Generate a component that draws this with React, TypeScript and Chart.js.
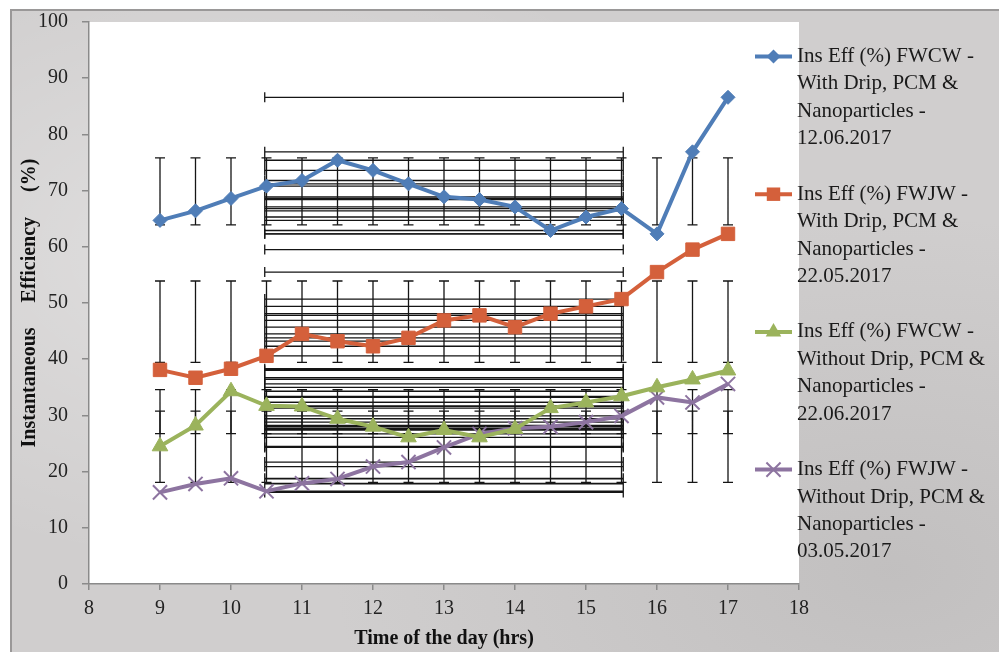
import React, { useEffect, useRef } from "react";
import { Chart, registerables } from "chart.js";

Chart.register(...registerables);

// ---- data ----
const hours = [9, 9.5, 10, 10.5, 11, 11.5, 12, 12.5, 13, 13.5, 14, 14.5, 15, 15.5, 16, 16.5, 17];
const fwcwDrip = [64.7, 66.4, 68.6, 70.8, 71.8, 75.4, 73.6, 71.2, 68.9, 68.4, 67.1, 62.9, 65.3, 66.8, 62.3, 76.9, 86.6];
const fwjwDrip = [38.1, 36.7, 38.3, 40.6, 44.5, 43.2, 42.3, 43.8, 46.9, 47.8, 45.7, 48.1, 49.4, 50.7, 55.5, 59.5, 62.3];
const fwcwNoDrip = [24.5, 28.2, 34.3, 31.7, 31.6, 29.4, 28.0, 26.1, 27.4, 26.1, 27.6, 31.3, 32.3, 33.4, 35.0, 36.4, 38.0];
const fwjwNoDrip = [16.3, 17.8, 18.8, 16.5, 17.9, 18.7, 20.9, 21.7, 24.3, 26.7, 27.7, 28.0, 28.8, 29.9, 33.2, 32.3, 35.6];

const legendLines = [
  ["Ins Eff (%) FWCW -", "With Drip, PCM &", "Nanoparticles -", "12.06.2017"],
  ["Ins Eff (%) FWJW -", "With Drip, PCM &", "Nanoparticles -", "22.05.2017"],
  ["Ins Eff (%) FWCW -", "Without Drip, PCM &", "Nanoparticles -", "22.06.2017"],
  ["Ins Eff (%) FWJW -", "Without Drip, PCM &", "Nanoparticles -", "03.05.2017"],
];
const seriesColors = ["#4f7db7", "#d4603b", "#9bb35c", "#8d74a0"];
const seriesMarkers = ["rectRot", "rect", "triangle", "crossRot"];
const markerRadius = [7, 9.5, 9, 10];
const seriesValues = [fwcwDrip, fwjwDrip, fwcwNoDrip, fwjwNoDrip];

const xMin = 8;
const xMax = 18;
const yMin = 0;
const yMax = 100;
const xTitle = "Time of the day (hrs)";
const yTitle = "Instantaneous     Efficiency     (%)";

const FONT = "'Liberation Serif', 'Times New Roman', serif";

function stats(v: number[]): [number, number] {
  const m = v.reduce((a, b) => a + b, 0) / v.length;
  const s = Math.sqrt(v.reduce((a, b) => a + (b - m) * (b - m), 0) / (v.length - 1));
  return [m, s];
}

const plotBgPlugin = {
  id: "plotBg",
  beforeDraw(chart: any) {
    const { ctx, chartArea } = chart;
    ctx.save();
    ctx.fillStyle = "#ffffff";
    ctx.fillRect(chartArea.left, chartArea.top, chartArea.right - chartArea.left, chartArea.bottom - chartArea.top);
    ctx.restore();
  },
};

// Excel-style standard deviation error bars (centred on the series mean)
const errorBarPlugin = {
  id: "errorBars",
  beforeDatasetsDraw(chart: any) {
    const { ctx, chartArea, scales } = chart;
    const xs = scales.x;
    const ys = scales.y;
    ctx.save();
    ctx.beginPath();
    ctx.rect(chartArea.left, chartArea.top, chartArea.right - chartArea.left, chartArea.bottom - chartArea.top);
    ctx.clip();
    ctx.strokeStyle = "#151515";
    ctx.lineWidth = 1.3;
    const cap = 5;
    chart.data.datasets.forEach((ds: any) => {
      const pts = ds.data as { x: number; y: number }[];
      const [mx, sx] = stats(pts.map((p) => p.x));
      const [my, sy] = stats(pts.map((p) => p.y));
      const y1 = ys.getPixelForValue(my + sy);
      const y2 = ys.getPixelForValue(my - sy);
      const x1 = xs.getPixelForValue(mx - sx);
      const x2 = xs.getPixelForValue(mx + sx);
      ctx.beginPath();
      pts.forEach((p) => {
        const px = xs.getPixelForValue(p.x);
        const py = ys.getPixelForValue(p.y);
        ctx.moveTo(px, y1);
        ctx.lineTo(px, y2);
        ctx.moveTo(px - cap, y1);
        ctx.lineTo(px + cap, y1);
        ctx.moveTo(px - cap, y2);
        ctx.lineTo(px + cap, y2);
        ctx.moveTo(x1, py);
        ctx.lineTo(x2, py);
        ctx.moveTo(x1, py - cap);
        ctx.lineTo(x1, py + cap);
        ctx.moveTo(x2, py - cap);
        ctx.lineTo(x2, py + cap);
      });
      ctx.stroke();
    });
    ctx.restore();
  },
};

function drawMarker(ctx: CanvasRenderingContext2D, style: string, x: number, y: number, r: number, color: string) {
  ctx.save();
  ctx.fillStyle = color;
  ctx.strokeStyle = color;
  ctx.beginPath();
  if (style === "rectRot") {
    ctx.moveTo(x, y - r);
    ctx.lineTo(x + r, y);
    ctx.lineTo(x, y + r);
    ctx.lineTo(x - r, y);
    ctx.closePath();
    ctx.fill();
  } else if (style === "rect") {
    const s = r * Math.SQRT1_2;
    ctx.rect(x - s, y - s, 2 * s, 2 * s);
    ctx.fill();
  } else if (style === "triangle") {
    const sideLen = (r * 3) / Math.sqrt(3);
    const h = (sideLen * Math.sqrt(3)) / 2;
    ctx.moveTo(x - sideLen / 2, y + h / 3);
    ctx.lineTo(x + sideLen / 2, y + h / 3);
    ctx.lineTo(x, y - (2 * h) / 3);
    ctx.closePath();
    ctx.fill();
  } else {
    const o = r * Math.SQRT1_2;
    ctx.lineWidth = 2;
    ctx.moveTo(x - o, y - o);
    ctx.lineTo(x + o, y + o);
    ctx.moveTo(x - o, y + o);
    ctx.lineTo(x + o, y - o);
    ctx.stroke();
  }
  ctx.restore();
}

const legendPlugin = {
  id: "sideLegend",
  afterDraw(chart: any) {
    const { ctx } = chart;
    const lineH = 27.4;
    const startY = 56.5;
    const entryGap = 137.7;
    ctx.save();
    chart.data.datasets.forEach((ds: any, i: number) => {
      const y0 = startY + i * entryGap;
      ctx.strokeStyle = ds.borderColor;
      ctx.lineWidth = 4;
      ctx.beginPath();
      ctx.moveTo(755, y0);
      ctx.lineTo(792, y0);
      ctx.stroke();
      drawMarker(ctx, ds.pointStyle, 773.5, y0, ds.pointRadius, ds.borderColor);
      ctx.fillStyle = "#1a1a1a";
      ctx.font = `21px ${FONT}`;
      ctx.textAlign = "left";
      ctx.textBaseline = "middle";
      legendLines[i].forEach((t, j) => ctx.fillText(t, 797, y0 + j * lineH));
    });
    ctx.restore();
  },
};

export default function App() {
  const canvasRef = useRef<HTMLCanvasElement | null>(null);

  useEffect(() => {
    if (!canvasRef.current) return;
    const datasets = seriesValues.map((vals, i) => ({
      label: legendLines[i].join(" "),
      data: hours.map((h, k) => ({ x: h, y: vals[k] })),
      borderColor: seriesColors[i],
      backgroundColor: seriesColors[i],
      borderWidth: 4,
      pointStyle: seriesMarkers[i],
      pointRadius: markerRadius[i],
      pointBorderWidth: i === 3 ? 2 : 1,
      pointBackgroundColor: seriesColors[i],
      pointBorderColor: seriesColors[i],
      showLine: true,
      tension: 0,
      fill: false,
    }));
    const chart = new Chart(canvasRef.current, {
      type: "scatter",
      data: { datasets },
      options: {
        animation: false,
        responsive: false,
        devicePixelRatio: 1,
        layout: { padding: { left: 0, right: 200, top: 22, bottom: 0 } },
        plugins: { legend: { display: false }, tooltip: { enabled: false } },
        scales: {
          x: {
            type: "linear",
            min: xMin,
            max: xMax,
            afterFit: (s: any) => {
              s.height = 68;
            },
            ticks: { stepSize: 1, color: "#222", font: { family: FONT, size: 20 }, padding: 7 },
            grid: { drawOnChartArea: false, drawTicks: true, tickLength: 6, color: "#8a8a8a", lineWidth: 1.5 },
            border: { display: true, color: "#8a8a8a", width: 1.5 },
            title: { display: true, text: xTitle, color: "#111", font: { family: FONT, size: 20, weight: "bold" }, padding: { top: 0, bottom: 1 } },
          },
          y: {
            type: "linear",
            min: yMin,
            max: yMax,
            afterFit: (s: any) => {
              s.width = 89;
              s.paddingTop = 10;
              s.paddingBottom = 10;
            },
            ticks: { stepSize: 10, color: "#222", font: { family: FONT, size: 20 }, padding: 14 },
            grid: { drawOnChartArea: false, drawTicks: true, tickLength: 7, color: "#8a8a8a", lineWidth: 1.5 },
            border: { display: true, color: "#8a8a8a", width: 1.5 },
            title: { display: true, text: yTitle, color: "#111", font: { family: FONT, size: 20, weight: "bold" }, padding: { top: 18, bottom: 0 } },
          },
        },
      },
      plugins: [plotBgPlugin, errorBarPlugin, legendPlugin],
    } as any);
    return () => chart.destroy();
  }, []);

  return (
    <div style={{ position: "fixed", left: 0, top: 0, width: 999, height: 652, background: "#ffffff", overflow: "hidden" }}>
      <div
        style={{
          position: "absolute",
          left: 10,
          top: 9,
          width: 1100,
          height: 800,
          border: "2px solid #9a9898",
          background:
            "radial-gradient(ellipse at 20% 30%, rgba(255,255,255,0.35), transparent 40%), radial-gradient(ellipse at 80% 70%, rgba(150,148,148,0.25), transparent 45%), #d0cece",
        }}
      />
      <canvas ref={canvasRef} width={999} height={652} style={{ position: "absolute", left: 0, top: 0, width: 999, height: 652 }} />
    </div>
  );
}
